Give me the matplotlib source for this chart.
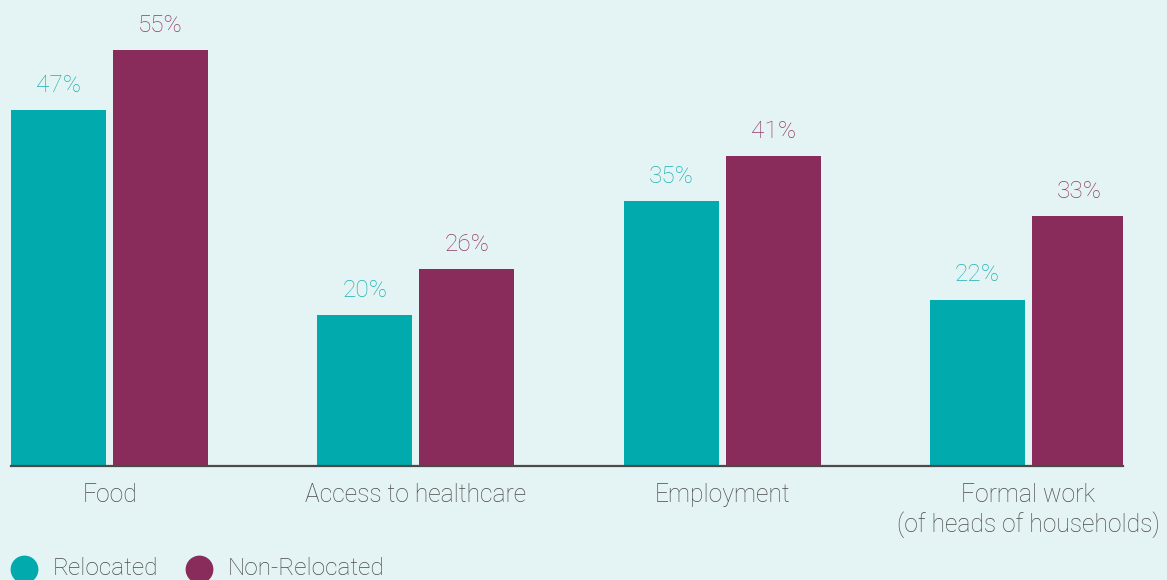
import matplotlib
matplotlib.use("Agg")
import matplotlib.pyplot as plt
from matplotlib.lines import Line2D
import numpy as np

categories = ["Food", "Access to healthcare", "Employment", "Formal work\n(of heads of households)"]
relocated = [47, 20, 35, 22]
non_relocated = [55, 26, 41, 33]
series_names = ["Relocated", "Non-Relocated"]

bg = "#E4F3F3"
c_rel = "#00AAAD"
c_non = "#8A2C5B"
c_rel_txt = "#1FB1B4"
c_non_txt = "#943C69"
txt = "#4a4a4a"

plt.rcParams['font.family'] = ['Roboto', 'DejaVu Sans']

W, H = 1167, 580
fig = plt.figure(figsize=(W/100, H/100), dpi=100, facecolor=bg)
ax = fig.add_axes([11/W, (H-466)/H, (1123-11)/W, 466/H])
ax.set_facecolor(bg)

x = np.arange(len(categories))
bw = 95/306
off = 51/306
b1 = ax.bar(x - off, relocated, bw, color=c_rel)
b2 = ax.bar(x + off, non_relocated, bw, color=c_non)

for rects, vals, col in [(b1, relocated, c_rel_txt), (b2, non_relocated, c_non_txt)]:
    for r, v in zip(rects, vals):
        ax.annotate(f"{v}%", (r.get_x() + r.get_width()/2, v), xytext=(0, 9.5),
                    textcoords="offset points", ha="center", va="bottom",
                    fontsize=17.6, color=col, fontweight="light")

ax.set_xlim(-98.5/306, 3 + (1123-1028.5)/306)
ax.set_ylim(0, 466/7.564)
ax.set_xticks(x)
ax.set_xticklabels(categories, fontsize=17.7, color=txt, fontweight="light", linespacing=1.22)
ax.tick_params(axis="x", length=0, pad=12.5)
ax.set_yticks([])
for s in ["top", "right", "left"]:
    ax.spines[s].set_visible(False)
ax.spines["bottom"].set_color("#4a4a4a")
ax.spines["bottom"].set_linewidth(1.6)

# legend (drawn at figure level)
leg_y = 1 - 568.5/H
for cx, tx, col, name in [(24, 53, c_rel, series_names[0]), (199, 228, c_non, series_names[1])]:
    fig.add_artist(Line2D([cx/W], [leg_y], marker="o", linestyle="", markersize=19,
                          color=col, transform=fig.transFigure))
    fig.text(tx/W, leg_y, name, fontsize=17.6, color=txt, fontweight="light",
             ha="left", va="center")

fig.savefig("out.png", dpi=100, facecolor=bg)
